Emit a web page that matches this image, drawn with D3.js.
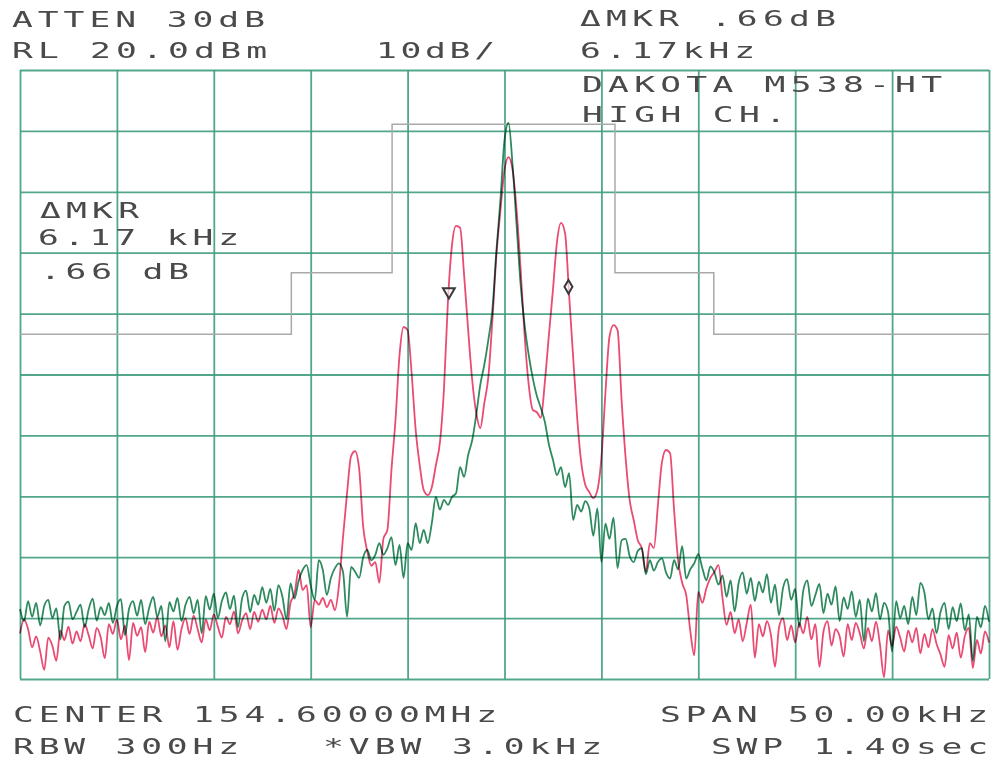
<!DOCTYPE html>
<html><head><meta charset="utf-8">
<script src="https://cdn.jsdelivr.net/npm/d3@7"></script>
<style>body{margin:0;background:#fff}svg{display:block}</style>
</head><body>
<svg id="c" width="993" height="762"></svg>
<script>
// ---- data ----
const freqTicks = [-25,-20,-15,-10,-5,0,5,10,15,20,25];      // kHz offset from center
const levelTicks = [-80,-70,-60,-50,-40,-30,-20,-10,0,10,20]; // dBm

const greenTrace = [
-68.5,-70.5,-67.2,-69.8,-67.5,-71.2,-68.0,-67.0,-70.0,-68.4,-73.5,-68.0,-67.3,-70.2,-69.0,-67.8,-71.5,-68.6,-66.8,-70.4,-68.2,
-69.5,-67.5,-70.8,-68.0,-66.9,-72.8,-68.5,-67.2,-69.6,-67.0,-71.0,-68.3,-66.5,-69.8,-68.0,-73.8,-67.4,-68.9,-66.7,-70.5,
-67.8,-66.5,-69.2,-67.0,-72.5,-66.4,-68.6,-66.0,-70.0,-67.2,-65.8,-68.5,-66.3,-71.5,-66.8,-65.5,-69.0,-66.2,-67.8,-64.9,
-67.5,-65.2,-68.8,-64.6,-66.5,-70.2,-64.3,-66.8,-63.9,
-62.1,-61.3,-64.6,-67.0,-60.5,-62.1,-66.2,-63.4,-61.8,-61.0,-62.4,
-69.8,-61.6,-62.4,-63.4,-60.0,-58.8,-60.5,-59.6,-57.7,-59.6,
-58.5,-56.7,-61.3,-58.0,-63.4,-57.7,-58.8,-54.4,-57.7,-55.5,
-57.7,-54.4,-50.1,-52.2,-50.6,-51.4,-50.1,-49.5,-45.2,-46.8,
-43.2,-40.8,-36.6,-31.7,-28.4,-24.3,-19.4,-9.6,-1.3,8.5,
11.3,4.4,-5.5,-15.3,-22.0,-26.8,-30.6,-33.5,-35.5,-37.8,
-41.5,-44.0,-46.5,-45.2,-48.5,-46.2,-53.9,-51.4,-52.5,-50.8,
-52.0,-56.5,-52.0,-60.8,-54.5,-57.0,-53.5,-61.8,-57.2,-57.0,
-59.8,-60.8,-59.0,-58.5,-62.8,-60.5,-62.2,-60.8,-60.2,-62.5,
-63.5,-60.5,-62.0,-58.2,-63.5,-62.0,-61.0,-59.5,-61.8,-63.8,
-61.5,-62.5,-64.5,
-63.0,-66.5,-63.8,-68.9,-64.2,-62.5,-66.0,-63.4,-67.2,-64.0,
-65.8,-62.8,-67.5,-64.5,-69.5,-65.0,-63.6,-67.0,-65.2,-71.5,
-65.5,-63.8,-68.0,-66.2,-64.4,-69.2,-66.0,-67.8,-64.8,-70.5,
-66.6,-68.5,-65.6,-69.8,-67.0,-73.8,-66.8,-68.9,-65.9,-70.2,
-67.5,-69.0,-75.5,-67.2,-70.0,-68.0,-71.0,-66.5,-69.5,-64.2,
-65.8,-70.2,-68.4,-72.5,-69.0,-67.5,-71.8,-68.2,-70.5,-67.6,
-72.0,-69.4,-77.0,-69.8,-71.5,-68.0,-70.6
];

const redTrace = [
-72.5,-70.2,-71.8,-74.8,-73.0,-75.5,-78.5,-73.2,-74.5,-77.0,-72.0,-73.6,-71.4,-74.2,-72.2,-73.8,-71.0,-72.8,-75.0,-71.6,-73.2,
-76.6,-71.0,-72.6,-70.2,-73.5,-71.2,-76.9,-70.8,-72.9,-71.5,-75.6,-70.6,-72.4,-69.8,-73.0,-71.2,-74.8,-70.5,-75.2,-71.8,
-70.0,-72.6,-69.6,-71.8,-74.0,-70.2,-72.0,-69.4,-71.4,-73.2,-69.8,-71.0,-68.9,-72.5,-70.4,-69.2,-71.8,-69.0,-70.6,-68.6,
-70.2,-68.0,-70.8,-68.4,-69.6,-71.8,-67.5,-66.0,-62.1,-65.4,
-64.6,-71.5,-67.0,-67.8,-66.7,-68.2,-67.0,-68.7,-64.6,-56.7,
-49.5,-43.4,-42.6,-45.5,-55.0,-59.0,-61.4,-60.8,-64.2,-57.0,
-55.5,-45.7,-37.5,-26.8,-22.2,-22.7,-29.8,-39.1,-44.9,-49.0,
-49.8,-48.5,-44.9,-41.2,-32.5,-17.8,-8.7,-5.6,-5.9,-13.7,
-22.7,-30.9,-36.3,-38.8,-34.7,-30.4,-21.1,-10.4,-3.0,3.6,
5.7,3.6,-3.0,-12.8,-23.8,-31.7,-35.8,-36.2,-37.1,-31.2,
-23.5,-16.1,-8.2,-5.1,-6.8,-16.9,-27.1,-37.1,-44.4,-48.1,
-49.3,-50.3,-49.0,-43.7,-33.0,-23.8,-21.9,-22.7,-34.2,-43.7,
-50.6,-53.9,-57.2,-58.5,-62.4,-57.7,-58.5,-51.4,-44.4,-42.4,
-42.9,-52.2,-60.5,-64.2,-66.2,-72.0,-76.1,-65.7,-67.5,-65.1,
-63.4,-62.4,-61.3,-66.7,-71.1,
-69.0,-72.5,-70.2,-73.8,-70.8,-67.8,-76.5,-71.0,-73.0,-70.5,
-72.8,-78.0,-71.5,-70.0,-73.6,-71.2,-74.0,-70.8,-72.5,-69.8,
-73.5,-71.0,-78.0,-72.2,-70.5,-74.5,-71.8,-73.0,-76.3,-71.0,
-73.6,-70.8,-72.5,-75.0,-71.6,-73.8,-70.6,-74.4,-79.7,-72.0,
-74.6,-71.4,-73.2,-75.5,-72.0,-74.0,-71.6,-75.8,-72.6,-74.8,
-71.8,-74.2,-76.0,-78.0,-72.8,-75.0,-72.4,-76.5,-73.0,-71.6,
-78.2,-73.6,-75.8,-72.2,-74.0
];

// limit mask (kHz, dBm)
const maskFreqs  = [-25,-11,-11,-5.8,-5.8,5.7,5.7,10.8,10.8,25];
const maskLevels = [-23.4,-23.4,-13.3,-13.3,11.1,11.1,-13.3,-13.3,-23.4,-23.4];

// markers
const markerFreqs  = [-2.87, 3.30];
const markerLevels = [-16.4, -15.6];
const markerShapes = ["triangle", "diamond"];

// annotation texts
const headerLeft  = ["ATTEN 30dB", "RL 20.0dBm"];
const scaleText   = "10dB/";
const headerRight = ["\u0394MKR .66dB", "6.17kHz", "DAKOTA M538-HT", "HIGH CH."];
const insetTexts  = ["\u0394MKR", "6.17 kHz", ".66 dB"];
const footerLeft  = ["CENTER 154.60000MHz", "RBW 300Hz"];
const footerMid   = "*VBW 3.0kHz";
const footerRight = ["SPAN 50.00kHz", "SWP 1.40sec"];

// ---- drawing ----
const svg = d3.select("#c");
const L = 20, R = 989, T = 70, B = 679;
const x = d3.scaleLinear().domain([-25, 25]).range([L, R]);
const y = d3.scaleLinear().domain([-80, 20]).range([B, T]);
const sweep = d3.scaleLinear().domain([0, greenTrace.length - 1]).range([-25, 25]);

const gridColor = "#3f9d7e";
const gx = svg.append("g").attr("transform", `translate(0,${B})`)
  .call(d3.axisBottom(x).tickValues(freqTicks).tickSize(-(B - T)).tickFormat(""));
const gy = svg.append("g").attr("transform", `translate(${L},0)`)
  .call(d3.axisLeft(y).tickValues(levelTicks).tickSize(-(R - L)).tickFormat(""));
[gx, gy].forEach(g => {
  g.select(".domain").remove();
  g.selectAll(".tick line").attr("stroke", gridColor).attr("stroke-width", 1.8).attr("opacity", 0.9);
});

// mask
const maskPts = maskFreqs.map((f, i) => [f, maskLevels[i]]);
svg.append("path").datum(maskPts)
  .attr("d", d3.line().x(d => x(d[0])).y(d => y(d[1])))
  .attr("fill", "none").attr("stroke", "#a9a9a9").attr("stroke-width", 1.5);

// traces
const line = d3.line().x((d, i) => x(sweep(i))).y(d => y(d)).curve(d3.curveMonotoneX);
svg.append("path").datum(greenTrace).attr("d", line)
  .attr("fill", "none").attr("stroke", "#2f8a5f").attr("stroke-width", 1.8)
  .attr("stroke-linejoin", "round").style("mix-blend-mode", "multiply");
svg.append("path").datum(redTrace).attr("d", line)
  .attr("fill", "none").attr("stroke", "#ea4b72").attr("stroke-width", 1.8)
  .attr("stroke-linejoin", "round").style("mix-blend-mode", "multiply");

// markers
markerFreqs.forEach((f, i) => {
  const tri = markerShapes[i] === "triangle";
  svg.append("path")
    .attr("d", d3.symbol().type(tri ? d3.symbolTriangle : d3.symbolDiamond).size(tri ? 60 : 55)())
    .attr("transform", `translate(${x(f)},${y(markerLevels[i])}) rotate(${tri ? 180 : 0})`)
    .attr("fill", "#fff").attr("fill-opacity", 0.6)
    .attr("stroke", "#3a3a3a").attr("stroke-width", 2);
});

// plotter-style text
const SX = 1.65;
function ptext(s, x0, x1, yb) {
  svg.append("text")
    .attr("transform", `translate(${x0},${yb}) scale(${SX},1)`)
    .attr("textLength", (x1 - x0 + 2) / SX)
    .attr("lengthAdjust", "spacing")
    .attr("font-family", "DejaVu Sans Mono, monospace")
    .attr("font-size", 21)
    .attr("fill", "#4a4a4a")
    .text(s);
}
ptext(headerLeft[0], 12, 263, 27);
ptext(headerLeft[1], 12, 265, 58);
ptext(scaleText, 376, 493, 58);
ptext(headerRight[0], 580, 834, 26);
ptext(headerRight[1], 580, 753, 58);
ptext(headerRight[2], 582, 940, 92);
ptext(headerRight[3], 582, 784, 122);
ptext(insetTexts[0], 40, 137, 218);
ptext(insetTexts[1], 38, 237, 245);
ptext(insetTexts[2], 40, 187, 279);
ptext(footerLeft[0], 13, 495, 722);
ptext(footerLeft[1], 13, 237, 754);
ptext(footerMid, 323, 600, 754);
ptext(footerRight[0], 660, 986, 722);
ptext(footerRight[1], 711, 986, 754);
</script>
</body></html>
